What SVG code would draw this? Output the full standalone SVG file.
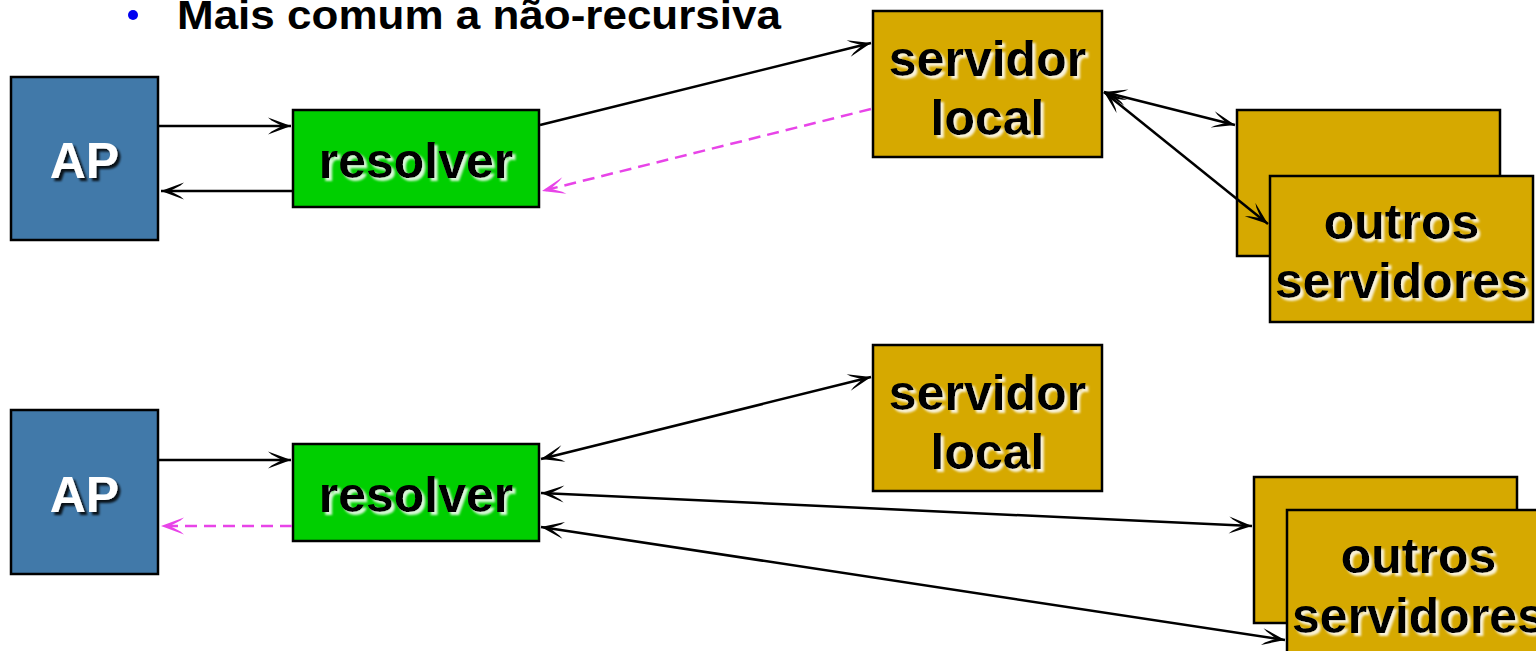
<svg xmlns="http://www.w3.org/2000/svg" width="1536" height="651" viewBox="0 0 1536 651">
  <style>
    .box { stroke: #000; stroke-width: 2.5; }
    .ap { fill: #4179a9; }
    .res { fill: #00cf00; }
    .srv { fill: #d6a900; }
    .lbl { font-family: "Liberation Sans", Arial, sans-serif; font-weight: bold; font-size: 50px; text-anchor: middle; fill: #000; }
    .lbl-w { fill: #fff; }
    .title { font-family: "Liberation Sans", Arial, sans-serif; font-weight: bold; font-size: 40px; fill: #000; }
    .wire { fill: none; stroke: #000; stroke-width: 2.5; }
    .reply { fill: none; stroke: #e844e8; stroke-width: 2.5; stroke-dasharray: 12 7; }
  </style>
  <defs>
    <!-- light drop shadow behind dark labels -->
    <filter id="shadow-light" x="-10%" y="-20%" width="130%" height="150%">
      <feGaussianBlur in="SourceAlpha" stdDeviation="1.2" result="blur"/>
      <feOffset in="blur" dx="2.5" dy="2.5" result="off"/>
      <feFlood flood-color="#ffffff" flood-opacity="0.85"/>
      <feComposite in2="off" operator="in" result="sh"/>
      <feMerge><feMergeNode in="sh"/><feMergeNode in="SourceGraphic"/></feMerge>
    </filter>
    <!-- dark drop shadow behind white labels -->
    <filter id="shadow-dark" x="-10%" y="-20%" width="130%" height="150%">
      <feGaussianBlur in="SourceAlpha" stdDeviation="1.2" result="blur"/>
      <feOffset in="blur" dx="2.5" dy="2.5" result="off"/>
      <feFlood flood-color="#000000" flood-opacity="0.85"/>
      <feComposite in2="off" operator="in" result="sh"/>
      <feMerge><feMergeNode in="sh"/><feMergeNode in="SourceGraphic"/></feMerge>
    </filter>
    <!-- notched open arrowhead, tip at the path end -->
    <marker id="head" markerUnits="userSpaceOnUse" viewBox="-24 -10 25 20" refX="0" refY="0" markerWidth="25" markerHeight="20" orient="auto-start-reverse">
      <path d="M0,0 L-23,-8.5 L-19.5,-5.6 L-9,0 L-19.5,5.6 L-23,8.5 Z" fill="#000"/>
    </marker>
    <marker id="head-pink" markerUnits="userSpaceOnUse" viewBox="-24 -10 25 20" refX="0" refY="0" markerWidth="25" markerHeight="20" orient="auto-start-reverse">
      <path d="M0,0 L-23,-8.5 L-19.5,-5.6 L-9,0 L-19.5,5.6 L-23,8.5 Z" fill="#e844e8"/>
    </marker>
  </defs>

  <rect width="1536" height="651" fill="#fff"/>

  <!-- bullet line -->
  <g id="heading">
    <circle cx="133" cy="15" r="5" fill="#0000f0"/>
    <text class="title" x="177" y="29" textLength="604" lengthAdjust="spacingAndGlyphs">Mais comum a não-recursiva</text>
  </g>

  <!-- upper scenario -->
  <g id="ap-top">
    <rect class="box ap" x="11" y="77" width="147" height="163"/>
    <text class="lbl lbl-w" x="84.5" y="178" filter="url(#shadow-dark)">AP</text>
  </g>
  <g id="resolver-top">
    <rect class="box res" x="293" y="110" width="246" height="97"/>
    <text class="lbl" x="416" y="178" filter="url(#shadow-light)">resolver</text>
  </g>
  <g id="servidor-local-top">
    <rect class="box srv" x="873" y="11" width="229" height="146"/>
    <text class="lbl" x="987.5" y="76" filter="url(#shadow-light)">servidor</text>
    <text class="lbl" x="987.5" y="135" filter="url(#shadow-light)">local</text>
  </g>
  <g id="outros-servidores-top">
    <rect class="box srv" x="1237" y="110" width="263" height="146"/>
    <rect class="box srv" x="1270" y="176" width="263" height="146"/>
    <text class="lbl" x="1401.5" y="239" filter="url(#shadow-light)">outros</text>
    <text class="lbl" x="1401.5" y="298" filter="url(#shadow-light)">servidores</text>
  </g>

  <!-- lower scenario -->
  <g id="ap-bottom">
    <rect class="box ap" x="11" y="410" width="147" height="164"/>
    <text class="lbl lbl-w" x="84.5" y="512" filter="url(#shadow-dark)">AP</text>
  </g>
  <g id="resolver-bottom">
    <rect class="box res" x="293" y="444" width="246" height="97"/>
    <text class="lbl" x="416" y="512" filter="url(#shadow-light)">resolver</text>
  </g>
  <g id="servidor-local-bottom">
    <rect class="box srv" x="873" y="345" width="229" height="146"/>
    <text class="lbl" x="987.5" y="410" filter="url(#shadow-light)">servidor</text>
    <text class="lbl" x="987.5" y="469" filter="url(#shadow-light)">local</text>
  </g>
  <g id="outros-servidores-bottom">
    <rect class="box srv" x="1254" y="477" width="263" height="146"/>
    <rect class="box srv" x="1287" y="510" width="263" height="146"/>
    <text class="lbl" x="1418.5" y="573" filter="url(#shadow-light)">outros</text>
    <text class="lbl" x="1418.5" y="633" filter="url(#shadow-light)">servidores</text>
  </g>

  <g id="connectors">
    <!-- upper: resolver asks the local server, which iterates -->
    <path class="wire" d="M159,126 H291" marker-end="url(#head)"/>
    <path class="wire" d="M292,191 H161" marker-end="url(#head)"/>
    <path class="wire" d="M540,125 L871,43" marker-end="url(#head)"/>
    <path class="reply" d="M871,109 L542,191" marker-end="url(#head-pink)"/>
    <path class="wire" d="M1104,92 L1235,125" marker-start="url(#head)" marker-end="url(#head)"/>
    <path class="wire" d="M1104,92 L1268,224" marker-start="url(#head)" marker-end="url(#head)"/>
    <!-- lower: resolver iterates itself -->
    <path class="wire" d="M159,460 H291" marker-end="url(#head)"/>
    <path class="reply" d="M292,526 H161" marker-end="url(#head-pink)"/>
    <path class="wire" d="M541,459 L871,377" marker-start="url(#head)" marker-end="url(#head)"/>
    <path class="wire" d="M541,493 L1252,526" marker-start="url(#head)" marker-end="url(#head)"/>
    <path class="wire" d="M541,527 L1285,640" marker-start="url(#head)" marker-end="url(#head)"/>
  </g>
</svg>
